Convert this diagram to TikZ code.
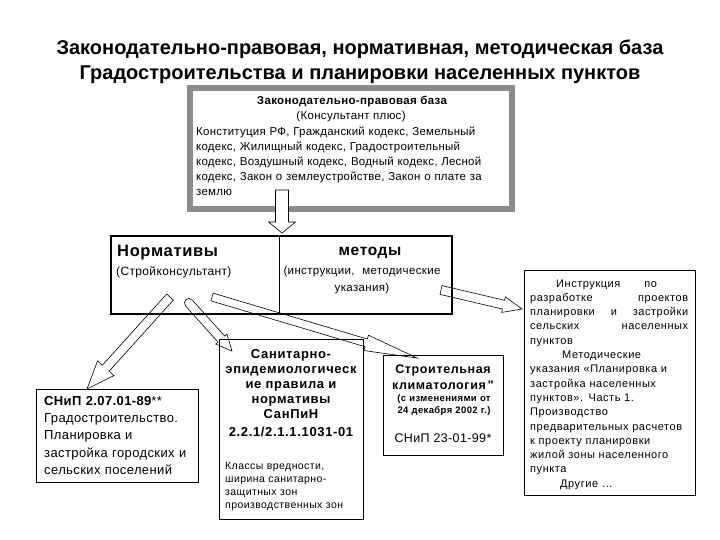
\documentclass[tikz,border=0pt]{standalone}
\usepackage{fontspec}
\setmainfont{Liberation Sans}
\usetikzlibrary{calc}
\newcommand\lsp[1]{\addfontfeatures{LetterSpace=#1}}
% #1 tail, #2 tip, #3 half shaft width, #4 half head width, #5 head length, #6 name, #7 style
\newcommand\blockarrow[7]{%
  \coordinate (#6-b) at ($(#2)!#5!(#1)$);
  \draw[#7] ($(#1)!#3!90:(#2)$) -- ($(#6-b)!#3!-90:(#1)$) -- ($(#6-b)!#4!-90:(#1)$)
    -- (#2) -- ($(#6-b)!#4!90:(#1)$) -- ($(#6-b)!#3!90:(#1)$) -- ($(#1)!#3!-90:(#2)$) -- cycle;}
% same, with a rounded tail
\newcommand\roundarrow[7]{%
  \coordinate (#6-b) at ($(#2)!#5!(#1)$);
  \coordinate (#6-k) at ($(#1)!1.333*#3!180:(#2)$);
  \coordinate (#6-l) at ($(#1)!#3!90:(#2)$);
  \coordinate (#6-r) at ($(#1)!#3!-90:(#2)$);
  \draw[#7] (#6-l) -- ($(#6-b)!#3!-90:(#1)$) -- ($(#6-b)!#4!-90:(#1)$)
    -- (#2) -- ($(#6-b)!#4!90:(#1)$) -- ($(#6-b)!#3!90:(#1)$) -- (#6-r)
    .. controls ($(#6-r)+(#6-k)-(#1)$) and ($(#6-l)+(#6-k)-(#1)$) .. (#6-l) -- cycle;}
\begin{document}
\begin{tikzpicture}[x=1pt,y=-1pt,
  box/.style={draw, line width=0.8pt, inner sep=0pt},
  txt/.style={inner sep=0pt},
  hollow/.style={draw, line width=0.6pt, line join=miter},
  hollowfill/.style={hollow, fill=white}]
\useasboundingbox (0,0) rectangle (720,540);
\fill[white] (0,0) rectangle (720,540);

% title
\node[txt, anchor=base, font=\fontsize{20}{24}\selectfont\bfseries] (title1) at (360,55)
  {Законодательно-правовая, нормативная, методическая база};
\node[txt, anchor=base, font=\fontsize{20}{24}\selectfont\bfseries] (title2) at (360,80)
  {Градостроительства и планировки населенных пунктов};

% top box
\node[draw=black!45, line width=6pt, inner sep=0pt, minimum width=322pt, minimum height=121pt] (law) at (351,148.5) {};
\node[txt, anchor=base, font=\fontsize{11.5}{14}\selectfont\bfseries\lsp{3}] (lawhead) at (352,104.5) {Законодательно-правовая база};
\node[txt, anchor=base, font=\fontsize{11.5}{14}\selectfont\lsp{3}] (lawsub) at (351,119.5) {(Консультант плюс)};
\node[txt, anchor=base west, text width=315pt, align=left, font=\fontsize{11.5}{15}\selectfont\lsp{2}] (lawtext) at (196,135.5)
  {Конституция РФ, Гражданский кодекс, Земельный\\
   кодекс, Жилищный кодекс, Градостроительный\\
   кодекс, Воздушный кодекс, Водный кодекс, Лесной\\
   кодекс, Закон о землеустройстве, Закон о плате за\\
   землю};

% middle box
\node[box, line width=2pt, minimum width=341pt, minimum height=78pt] (mid) at (281.5,275) {};
\draw[line width=0.8pt] ($(mid.north west)+(169,0)$) coordinate (divtop) -- ($(mid.south west)+(169,0)$) coordinate (divbot);
\node[txt, anchor=base west, font=\fontsize{16.5}{18}\selectfont\bfseries\lsp{4}] (norm) at (117,256) {Нормативы};
\node[txt, anchor=base west, font=\fontsize{12}{14}\selectfont\lsp{3}] (stroy) at (116,275) {(Стройконсультант)};
\node[txt, anchor=base, font=\fontsize{15.5}{18}\selectfont\bfseries\lsp{4}] (method) at (370,255) {методы};
\node[txt, anchor=base, text width=170pt, align=center, font=\fontsize{11.5}{17}\selectfont\lsp{3}] (instr) at (362,274)
  {(инструкции,\ \ методические\\указания)};

% bottom boxes
\node[box, minimum width=162pt, minimum height=93pt] (snip) at (117,435.5) {};
\node[txt, anchor=base west, text width=155pt, align=left, font=\fontsize{13}{17.2}\selectfont\lsp{3}] (sniptext) at (44,405.5)
  {{\bfseries СНиП 2.07.01-89}**\\
   Градостроительство.\\
   Планировка и\\
   застройка городских и\\
   сельских поселений};

\node[box, minimum width=144pt, minimum height=180pt] (san) at (291,429) {};
\node[txt, anchor=base, text width=140pt, align=center, font=\fontsize{13}{15}\selectfont\bfseries\lsp{5}] (santitle) at (291,358)
  {Санитарно-\\эпидемиологическ\\ие правила и\\нормативы\\СанПиН\\[3pt]2.2.1/2.1.1.1031-01};
\node[txt, anchor=base west, text width=135pt, align=left, font=\fontsize{10.5}{13}\selectfont\lsp{4}] (santext) at (225,469)
  {Классы вредности,\\ширина санитарно-\\защитных зон\\производственных зон};

\node[box, minimum width=120pt, minimum height=100pt] (clim) at (443,405) {};
\node[txt, anchor=base, text width=118pt, align=center, font=\fontsize{12.5}{16.5}\selectfont\bfseries\lsp{5}] (climtitle) at (443,373)
  {Строительная\\климатология\,\textquotedbl};
\node[txt, anchor=base, text width=118pt, align=center, font=\fontsize{9.5}{12}\selectfont\bfseries\lsp{4}] (climnote) at (444,401.5)
  {(с изменениями от\\24 декабря 2002 г.)};
\node[txt, anchor=base, font=\fontsize{12.5}{14}\selectfont\lsp{3}] (climsnip) at (443,442) {СНиП 23-01-99*};

\node[box, minimum width=171pt, minimum height=225pt] (instrbox) at (609.5,382.5) {};
\node[txt, anchor=base west, text width=158pt, align=left, font=\fontsize{11}{14.3}\selectfont\lsp{5}] (instrtext) at (530,287)
  {\hspace*{26pt}Инструкция\hspace{24pt}по\\
   разработке\hfill проектов\\
   планировки\hfill и\hfill застройки\\
   сельских\hfill населенных\\
   пунктов\\
   \hspace*{32pt}Методические\\
   указания «Планировка и\\
   застройка населенных\\
   пунктов». Часть 1.\\
   Производство\\
   предварительных расчетов\\
   к проекту планировки\\
   жилой зоны населенного\\
   пункта\\
   \hspace*{30pt}Другие …};

% arrows
\coordinate (a0t) at (282,190);
\coordinate (a0h) at (282,233);
\blockarrow{a0t}{a0h}{6.5pt}{13.5pt}{11pt}{a0}{hollowfill}

\coordinate (a1t) at (170,297);
\coordinate (a1h) at (87,389);
\blockarrow{a1t}{a1h}{4.5pt}{11pt}{28pt}{a1}{hollow}

\coordinate (a2t) at (189,303);
\coordinate (a2h) at (232,351);
\roundarrow{a2t}{a2h}{4.5pt}{7.5pt}{16pt}{a2}{hollow}

\coordinate (a3t) at (212,297);
\coordinate (a3h) at (417,358);
\blockarrow{a3t}{a3h}{4pt}{8pt}{53pt}{a3}{hollow}

\coordinate (a4t) at (441,290);
\coordinate (a4h) at (522,309);
\blockarrow{a4t}{a4h}{4.5pt}{8pt}{19pt}{a4}{hollow}
\end{tikzpicture}
\end{document}
